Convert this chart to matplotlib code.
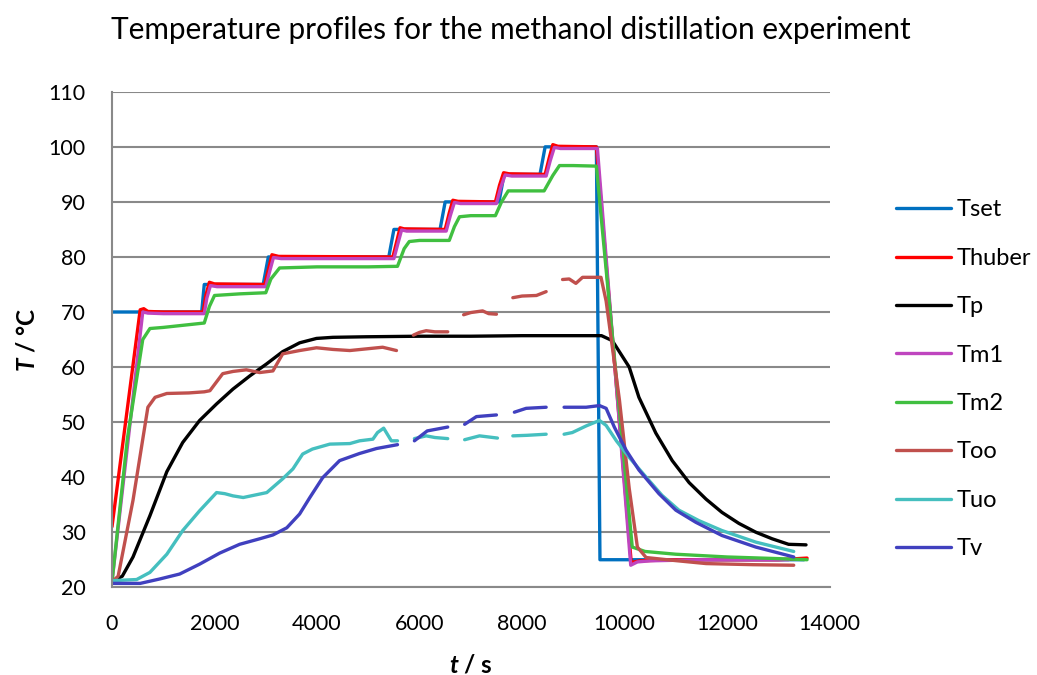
import numpy as np
import matplotlib
matplotlib.use("Agg")
import matplotlib.pyplot as plt

nan = np.nan

# time axis (s) and temperatures (degC) for each probe; nan marks missing logger samples
t_set = [0, 1750, 1800, 2950, 3050, 5400, 5500, 6400, 6500, 7550, 7650, 8350, 8450, 9450, 9520, 13500]
T_set = [70, 70, 75, 75, 80, 80, 85, 85, 90, 90, 95, 95, 100, 100, 25, 25]

t_huber = [0, 550, 620, 700, 1000, 1780, 1830, 1900, 2000, 2980, 3060, 3120, 3250, 5480, 5560, 5620,
           5700, 6500, 6580, 6650, 6750, 7480, 7560, 7640, 7750, 8450, 8530, 8600, 8700, 9450, 10130,
           10300, 11000, 12000, 13000, 13560]
T_huber = [31, 70.4, 70.6, 70.1, 70, 70, 73, 75.4, 75.1, 75, 78, 80.4, 80.1, 80, 83, 85.3,
           85.1, 85, 88, 90.3, 90.1, 90, 93, 95.3, 95.1, 95, 98, 100.4, 100.1, 100, 24.5,
           24.8, 25, 25, 25, 25.3]

t_p = [0, 200, 410, 740, 1070, 1380, 1710, 2040, 2360, 2690, 3020, 3330, 3660, 3990, 4310, 4960,
       6000, 7000, 8000, 9000, 9550, 9760, 10090, 10280, 10610, 10930, 11260, 11590, 11900, 12230,
       12560, 12880, 13200, 13540]
T_p = [21, 22, 25.5, 33, 41, 46.3, 50.3, 53.3, 56, 58.4, 60.6, 62.8, 64.4, 65.2, 65.4, 65.5,
       65.6, 65.6, 65.7, 65.7, 65.7, 64.8, 60, 54.5, 48, 43, 39, 36, 33.6, 31.6,
       30, 28.8, 27.8, 27.7]

t_m1 = [0, 600, 700, 1000, 1800, 1850, 1920, 2050, 3000, 3080, 3150, 3300, 5500, 5580, 5650, 5750,
        6520, 6600, 6680, 6800, 7500, 7580, 7670, 7800, 8470, 8550, 8630, 8750, 9470, 10120,
        10250, 10500, 11500, 13200]
T_m1 = [21, 70, 69.8, 69.7, 69.7, 72.5, 74.8, 74.6, 74.6, 77.5, 79.9, 79.7, 79.7, 82.5, 84.9, 84.7,
        84.7, 87.5, 89.9, 89.7, 89.7, 92.5, 94.9, 94.7, 94.7, 97.5, 99.9, 99.7, 99.7, 24,
        24.6, 24.8, 25, 25]

t_m2 = [0, 300, 600, 740, 1000, 1500, 1800, 1900, 2000, 2500, 3000, 3100, 3270, 4000, 5000, 5570,
        5700, 5800, 6000, 6580, 6680, 6780, 7000, 7480, 7600, 7730, 8000, 8430, 8600, 8730, 9000,
        9450, 10150, 10400, 11000, 12000, 13000, 13560]
T_m2 = [21, 47, 65, 67, 67.2, 67.7, 68, 71, 73, 73.3, 73.5, 76, 78, 78.2, 78.2, 78.3,
        81.5, 82.8, 83, 83, 85.5, 87.3, 87.5, 87.5, 90, 92, 92, 92, 94.8, 96.6, 96.6,
        96.5, 27.3, 26.5, 26, 25.5, 25.2, 25]

t_oo = [0, 120, 410, 700, 840, 1070, 1500, 1800, 1910, 2160, 2360, 2620, 2880, 3140, 3330, 3660,
        3990, 4310, 4640, 4960, 5280, 5550, 5700,
        5880, 6000, 6130, 6300, 6550, 6700,
        6860, 7000, 7230, 7350, 7500, 7650,
        7820, 8000, 8280, 8470, 8620,
        8790, 8920, 9050, 9180, 9540, 9640, 9900, 10090, 10250, 10420, 10930, 11590, 12500, 13300]
T_oo = [21, 22, 35.8, 52.7, 54.5, 55.2, 55.3, 55.5, 55.7, 58.8, 59.2, 59.5, 59, 59.3, 62.4, 63,
        63.5, 63.2, 63, 63.3, 63.6, 63, nan,
        65.8, 66.3, 66.6, 66.4, 66.4, nan,
        69.5, 69.9, 70.2, 69.7, 69.6, nan,
        72.6, 72.9, 73, 73.7, nan,
        75.9, 76, 75.2, 76.3, 76.3, 72, 54, 38, 27.3, 25.4, 24.9, 24.3, 24.1, 24]

t_uo = [0, 480, 740, 1070, 1380, 1710, 2040, 2200, 2360, 2560, 3020, 3330, 3530, 3720, 3910, 4250,
        4640, 4830, 5090, 5180, 5300, 5450, 5570, 5700,
        5900, 6130, 6300, 6550, 6700,
        6880, 7170, 7520, 7650,
        7820, 8100, 8470, 8620,
        8820, 8980, 9250, 9510, 9640, 9840, 10090, 10420, 10730, 11060, 11450, 11900, 12560, 13300]
T_uo = [21.2, 21.4, 22.7, 26, 30.3, 33.9, 37.2, 37, 36.6, 36.3, 37.2, 39.7, 41.5, 44.2, 45.1, 46,
        46.1, 46.6, 46.9, 48.1, 48.9, 46.6, 46.6, nan,
        47, 47.5, 47.2, 47, nan,
        46.8, 47.5, 47.1, nan,
        47.5, 47.6, 47.8, nan,
        47.8, 48.1, 49.3, 50.3, 49.4, 46.6, 43.6, 40, 36.7, 34, 32.1, 30.3, 28.2, 26.5]

t_v = [0, 550, 930, 1320, 1710, 2100, 2490, 2880, 3140, 3410, 3660, 3860, 4110, 4440, 4830, 5160,
       5570, 5700,
       5900, 6150, 6550, 6700,
       6880, 7110, 7500, 7650,
       7850, 8080, 8470, 8620,
       8820, 9250, 9510, 9640, 9800, 10030, 10280, 10670, 11000, 11390, 11900, 12560, 13300]
T_v = [20.7, 20.7, 21.5, 22.4, 24.2, 26.2, 27.8, 28.8, 29.5, 30.8, 33.3, 36.3, 39.9, 43, 44.3, 45.2,
       45.9, nan,
       46.6, 48.4, 49.1, nan,
       49.6, 51, 51.3, nan,
       51.8, 52.5, 52.7, nan,
       52.7, 52.7, 53, 52.5, 49.1, 44.9, 41.3, 37, 34, 31.8, 29.4, 27.3, 25.5]

series = [
    ("Tset", t_set, T_set, "#0070C0"),
    ("Thuber", t_huber, T_huber, "#FF0000"),
    ("Tp", t_p, T_p, "#000000"),
    ("Tm1", t_m1, T_m1, "#BF45BF"),
    ("Tm2", t_m2, T_m2, "#40BF40"),
    ("Too", t_oo, T_oo, "#C0504D"),
    ("Tuo", t_uo, T_uo, "#45BFBF"),
    ("Tv", t_v, T_v, "#4040BF"),
]

plt.rcParams['font.family'] = ['Lato', 'DejaVu Sans']
plt.rcParams['mathtext.fontset'] = 'custom'
plt.rcParams['mathtext.it'] = 'Lato:italic:bold'

fig = plt.figure(figsize=(10.37, 6.75), dpi=100)
ax = fig.add_axes([0.108, 0.130, 0.692, 0.734])

for name, t, T, c in series:
    ax.plot(t, T, color=c, lw=2.4, label=name, solid_capstyle='round', solid_joinstyle='round')

ax.set_xlim(0, 14000)
ax.set_ylim(20, 110)
ax.set_xticks(np.arange(0, 14001, 2000))
ax.set_yticks(np.arange(20, 111, 10))
ax.grid(axis='y', color='#898989', lw=1.5)
ax.set_axisbelow(True)
for s in ['top', 'right']:
    ax.spines[s].set_visible(False)
for s in ['left', 'bottom']:
    ax.spines[s].set_color('#898989')
    ax.spines[s].set_linewidth(1.5)
ax.tick_params(length=0, labelsize=15.5, pad=19)

ax.set_xlabel(r'$t$ / s', fontsize=17.5, fontweight='bold', va='center')
ax.set_ylabel(r'$T$ / °C', fontsize=17.5, fontweight='bold', va='center')
ax.xaxis.set_label_coords(0.5, -0.157)
ax.yaxis.set_label_coords(-0.118, 0.5)

fig.text(0.493, 0.955, 'Temperature profiles for the methanol distillation experiment',
         ha='center', va='center', fontsize=21.4)

fig.legend(loc='upper left', bbox_to_anchor=(0.844, 0.736), frameon=False, fontsize=17,
           handlelength=2.33, labelspacing=1.16, handletextpad=0.2)

fig.savefig('out.png', dpi=100)
